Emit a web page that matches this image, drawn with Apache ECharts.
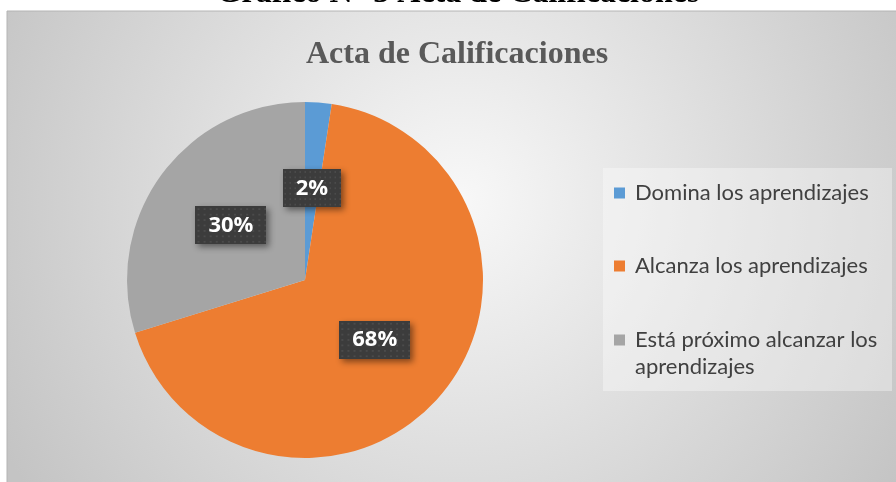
<!DOCTYPE html>
<html>
<head>
<meta charset="utf-8">
<script src="https://cdn.jsdelivr.net/npm/echarts@6/dist/echarts.min.js"></script>
<style>
  html, body { margin: 0; padding: 0; background: #fff; }
  #main { width: 896px; height: 482px; }
</style>
</head>
<body>
<div id="main"></div>
<script>
var categorias = ['Domina los aprendizajes', 'Alcanza los aprendizajes', 'Está próximo alcanzar los aprendizajes'];
var valores = [2.4, 67.8, 29.8];
var colores = ['#5B9BD5', '#ED7D31', '#A5A5A5'];
var titulo = 'Acta de Calificaciones';
var tituloDoc = 'Gráfico N° 3 Acta de Calificaciones';

// fondo punteado de las etiquetas
function patron() {
	var c = document.createElement('canvas');
	c.width = 70; c.height = 42;
	var ctx = c.getContext('2d');
	ctx.fillStyle = '#3c3c3c';
	ctx.fillRect(0, 0, 70, 42);
	ctx.fillStyle = '#4b4b4b';
	for (var y = 2; y < 42; y += 6) {
		for (var x = 2; x < 70; x += 6) {
			ctx.fillRect(x, y, 2, 2);
		}
	}
	return c;
}

var myChart = echarts.init(document.getElementById('main'));

var datos = categorias.map(function (n, i) {
	return { name: n, value: valores[i], itemStyle: { color: colores[i] } };
});

function leyenda(i, top, dosLineas) {
	return {
		orient: 'vertical',
		left: 614,
		top: top,
		padding: 0,
		itemWidth: 11,
		itemHeight: 11,
		icon: 'rect',
		selectedMode: false,
		data: [categorias[i]],
		formatter: function (name) {
			// linea vacia arriba para que el marcador quede con la primera linea
			return dosLineas ? '\nEstá próximo alcanzar los\naprendizajes' : name;
		},
		textStyle: {
			color: '#404040',
			fontFamily: 'Lato',
			fontSize: 22,
			lineHeight: 27,
			padding: [0, 0, 0, 5]
		}
	};
}

var option = {
	backgroundColor: '#ffffff',
	animation: false,
	title: {
		text: titulo,
		left: 452,
		top: 34,
		textAlign: 'center',
		textStyle: {
			fontFamily: 'Liberation Serif',
			fontWeight: 'bold',
			fontSize: 32,
			color: '#595959'
		}
	},
	graphic: [
		{
			type: 'rect',
			z: -10,
			shape: { x: 7, y: 11, width: 900, height: 480 },
			style: {
				fill: {
					type: 'radial', x: 460, y: 200, r: 520, global: true,
					colorStops: [
						{ offset: 0, color: '#f8f8f8' },
						{ offset: 1, color: '#c4c4c4' }
					]
				},
				stroke: '#b4b4b4',
				lineWidth: 1
			}
		},
		{
			type: 'rect',
			z: -5,
			shape: { x: 603, y: 168, width: 289, height: 223 },
			style: { fill: 'rgba(255,255,255,0.35)' }
		},
		{
			type: 'text',
			z: -5,
			style: {
				text: tituloDoc,
				x: 458,
				y: 10,
				align: 'center',
				verticalAlign: 'bottom',
				font: 'bold 32px "Liberation Serif"',
				fill: '#000'
			}
		}
	],
	legend: [
		leyenda(0, 179.5),
		leyenda(1, 252.5),
		leyenda(2, 299.5, true)
	],
	series: [{
		type: 'pie',
		center: [305, 280],
		radius: 178,
		startAngle: 90,
		clockwise: true,
		silent: true,
		itemStyle: { borderWidth: 0 },
		label: {
			show: true,
			position: 'inside',
			formatter: function (p) { return Math.round(p.percent) + '%'; },
			color: '#ffffff',
			fontFamily: 'Open Sans',
			fontWeight: 'bold',
			fontSize: 22,
			backgroundColor: { image: patron() },
			padding: [8, 13, 8, 13],
			shadowColor: 'rgba(0,0,0,0.45)',
			shadowBlur: 6,
			shadowOffsetX: 3,
			shadowOffsetY: 3
		},
		labelLine: { show: false },
		data: datos
	}]
};

myChart.setOption(option);
</script>
</body>
</html>
